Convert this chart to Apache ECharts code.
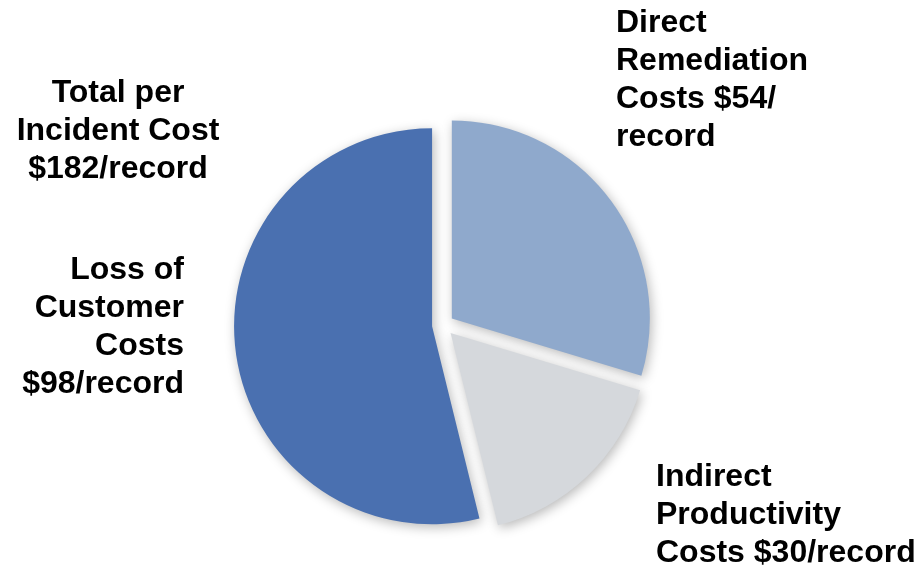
<!DOCTYPE html>
<html>
<head>
<meta charset="utf-8">
<script src="https://cdn.jsdelivr.net/npm/echarts@6/dist/echarts.min.js"></script>
<style>
  html, body { margin: 0; padding: 0; background: #ffffff; }
  #chart { width: 921px; height: 567px; }
</style>
</head>
<body>
<div id="chart"></div>
<script>
// Cost per compromised record, split into three components
const categories = ['Direct\nRemediation\nCosts', 'Indirect\nProductivity\nCosts', 'Loss of\nCustomer\nCosts'];
const values = [54, 30, 98];
const unit = 'record';

const colors = ['#8fa9cc', '#d5d8dc', '#4a70b0'];
const total = values.reduce((a, b) => a + b, 0);

// Label text for each slice, built from its name and value
function labelText(i) {
  const v = '$' + values[i] + '/';
  if (i === 0) return categories[i] + ' ' + v + '\n' + unit;
  if (i === 1) return categories[i] + ' ' + v + unit;
  return categories[i] + '\n' + v + unit;
}

// Where each slice label sits on the canvas
const labelSpots = [
  { x: 616, y: 4, align: 'left' },
  { x: 656, y: 458, align: 'left' },
  { x: 184, y: 251, align: 'right' }
];

const FONT = 'bold 32px "Liberation Sans", Arial, sans-serif';

function textEl(text, x, y, align) {
  return {
    type: 'text',
    x: x, y: y,
    style: {
      text: text,
      textAlign: align,
      textVerticalAlign: 'top',
      font: FONT,
      lineHeight: 38,
      fill: '#000'
    }
  };
}

const graphics = [textEl('Total per\nIncident Cost\n$' + total + '/' + unit, 118, 74, 'center')]
  .concat(values.map((v, i) => textEl(labelText(i), labelSpots[i].x, labelSpots[i].y, labelSpots[i].align)));

const chart = echarts.init(document.getElementById('chart'));
chart.setOption({
  backgroundColor: '#ffffff',
  animation: false,
  graphic: graphics,
  series: [{
    type: 'pie',
    center: [443, 325],
    radius: [0, 198],
    startAngle: 90,
    clockwise: true,
    selectedMode: 'multiple',
    selectedOffset: 11,
    emphasis: { disabled: true },
    label: { show: false },
    labelLine: { show: false },
    itemStyle: {
      shadowBlur: 12,
      shadowColor: 'rgba(0,0,0,0.28)',
      shadowOffsetX: 2,
      shadowOffsetY: 3
    },
    data: values.map((v, i) => ({
      name: categories[i],
      value: v,
      selected: true,
      itemStyle: { color: colors[i] }
    }))
  }]
});
</script>
</body>
</html>
